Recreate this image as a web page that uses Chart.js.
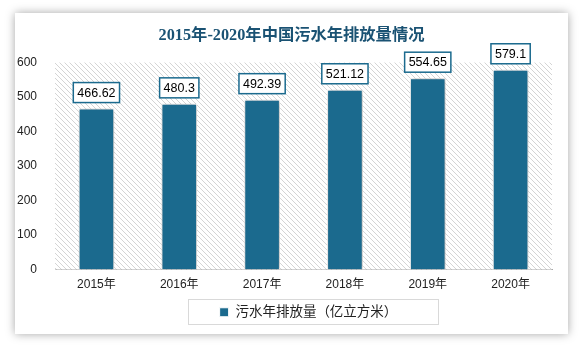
<!DOCTYPE html>
<html>
<head>
<meta charset="utf-8">
<script src="https://cdn.jsdelivr.net/npm/chart.js@4"></script>
<style>
  html, body { margin: 0; padding: 0; background: #fff; }
  body { width: 583px; height: 348px; position: relative; overflow: hidden; }
  #card {
    position: absolute; left: 15px; top: 13px; width: 553px; height: 321px;
    background: #fff; box-shadow: 0 0 9px rgba(0, 0, 0, 0.35);
  }
</style>
</head>
<body>
<div id="card"><canvas id="waterChart"></canvas></div>
<script>
const years = ["2015年", "2016年", "2017年", "2018年", "2019年", "2020年"];
const discharge = [466.62, 480.3, 492.39, 521.12, 554.65, 579.1];
const yTicks = [0, 100, 200, 300, 400, 500, 600];

const barColor = "#1b6a8e";
const fontFamily = '"Liberation Sans", "Noto Sans CJK SC", sans-serif';

// diagonal hatch used behind the bars
function makeHatch() {
  const c = document.createElement("canvas");
  c.width = 5;
  c.height = 5;
  const g = c.getContext("2d");
  g.fillStyle = "#ffffff";
  g.fillRect(0, 0, 5, 5);
  g.fillStyle = "#d4d4d4";
  for (let i = 0; i < 5; i++) g.fillRect(i, i, 1, 1);
  return c;
}

const hatchPlugin = {
  id: "hatch",
  afterLayout(chart) {
    // legend and title sit a bit right of the chart-area centre in the original
    chart.legend.left += 25;
    chart.legend.right += 25;
    chart.titleBlock.left += 8;
    chart.titleBlock.right += 8;
  },
  beforeDatasetsDraw(chart) {
    const { ctx, chartArea: a } = chart;
    ctx.save();
    ctx.fillStyle = ctx.createPattern(makeHatch(), "repeat");
    ctx.fillRect(a.left, a.top, a.right - a.left, a.bottom - a.top);
    ctx.restore();
    // shadow for bars
    ctx.save();
    ctx.shadowColor = "rgba(0,0,0,0.35)";
    ctx.shadowBlur = 5;
    ctx.shadowOffsetX = 1;
    ctx.shadowOffsetY = 0;
  },
  afterDatasetsDraw(chart) {
    const ctx = chart.ctx;
    ctx.restore();
    // value boxes above bars
    const meta = chart.getDatasetMeta(0);
    ctx.save();
    ctx.font = "12.5px " + fontFamily;
    ctx.textAlign = "center";
    ctx.textBaseline = "middle";
    meta.data.forEach((bar, i) => {
      const txt = String(discharge[i]);
      const w = Math.max(ctx.measureText(txt).width + 8, 39);
      const h = 20;
      const bottom = bar.y - 6;
      ctx.fillStyle = "#fff";
      ctx.fillRect(bar.x - w / 2, bottom - h, w, h);
      ctx.strokeStyle = barColor;
      ctx.lineWidth = 1.5;
      ctx.strokeRect(bar.x - w / 2, bottom - h, w, h);
      ctx.fillStyle = "#000";
      ctx.fillText(txt, bar.x, bottom - h / 2 + 0.5);
    });
    ctx.restore();
  },
  afterDraw(chart) {
    // frame round the legend
    const lg = chart.legend;
    const cx = lg.left + lg.width / 2 + 4;
    const cy = lg.top + lg.height / 2;
    const ctx = chart.ctx;
    ctx.save();
    ctx.strokeStyle = "#d9d9d9";
    ctx.lineWidth = 1;
    ctx.strokeRect(Math.round(cx - 125) + 0.5, Math.round(cy - 12.5) + 0.5, 250, 25);
    ctx.restore();
  },
};

new Chart(document.getElementById("waterChart"), {
  type: "bar",
  data: {
    labels: years,
    datasets: [
      {
        label: "污水年排放量（亿立方米）",
        data: discharge,
        backgroundColor: barColor,
        borderColor: "#ffffff",
        borderWidth: 1,
        categoryPercentage: 1,
        barPercentage: 0.43,
      },
    ],
  },
  options: {
    responsive: true,
    maintainAspectRatio: false,
    animation: false,
    layout: { padding: { left: 0, right: 16, top: 0, bottom: 5 } },
    plugins: {
      title: {
        display: true,
        text: "2015年-2020年中国污水年排放量情况",
        color: "#1a5273",
        font: { family: '"Liberation Serif", "Noto Sans CJK SC", serif', size: 16.3, weight: "bold" },
        padding: { top: 13, bottom: 17 },
      },
      legend: {
        position: "bottom",
        labels: {
          color: "#222",
          boxWidth: 9,
          boxHeight: 9,
          padding: 12,
          font: { family: fontFamily, size: 13.5 },
        },
      },
      tooltip: { enabled: false },
    },
    scales: {
      x: {
        afterFit(scale) { scale.height = 24; },
        grid: { display: false, drawTicks: false },
        border: { display: true, color: "#a6a6a6", width: 1 },
        ticks: { color: "#222", padding: 8, font: { family: fontFamily, size: 12 } },
      },
      y: {
        min: 0,
        max: 600,
        afterFit(scale) { scale.width = 40; },
        afterBuildTicks(scale) { scale.ticks = yTicks.map(v => ({ value: v })); },
        grid: { display: false },
        border: { display: false },
        ticks: { color: "#222", padding: 10, font: { family: fontFamily, size: 12 } },
      },
    },
  },
  plugins: [hatchPlugin],
});
</script>
</body>
</html>
